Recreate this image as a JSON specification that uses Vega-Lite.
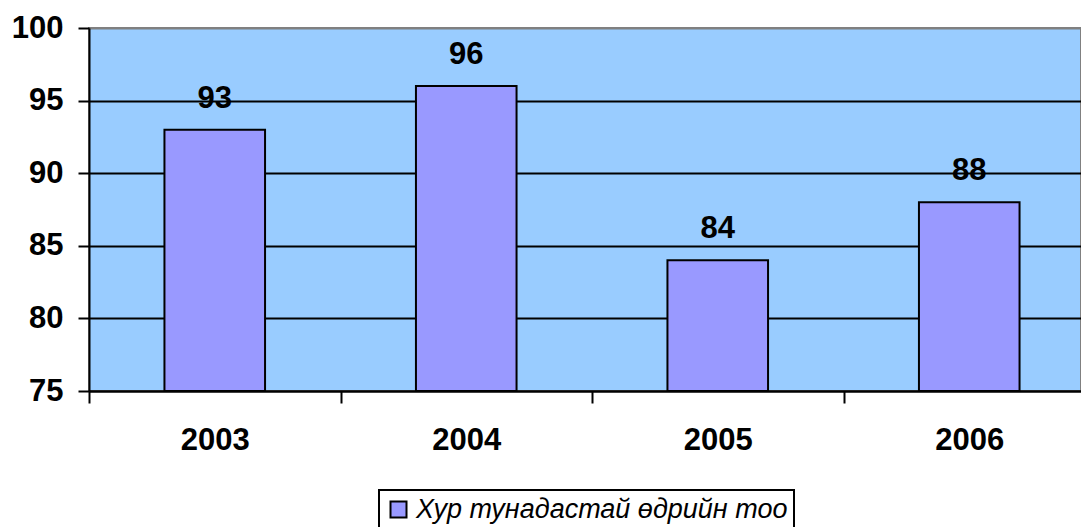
{
  "$schema": "https://vega.github.io/schema/vega-lite/v6.json",
  "width": 992,
  "height": 363,
  "autosize": {"type": "none"},
  "padding": {"left": 89, "top": 28, "right": 0, "bottom": 136},
  "background": "white",
  "config": {
    "font": "Liberation Sans",
    "view": {"fill": "#99CCFF", "stroke": "#808080", "strokeWidth": 2}
  },
  "data": {
    "values": [
      {"year": "2003", "value": 93, "series": "Хур тунадастай өдрийн тоо"},
      {"year": "2004", "value": 96, "series": "Хур тунадастай өдрийн тоо"},
      {"year": "2005", "value": 84, "series": "Хур тунадастай өдрийн тоо"},
      {"year": "2006", "value": 88, "series": "Хур тунадастай өдрийн тоо"}
    ]
  },
  "encoding": {
    "x": {
      "field": "year",
      "type": "nominal",
      "scale": {"range": [0, 1006], "paddingInner": 0, "paddingOuter": 0},
      "axis": {
        "title": null,
        "labelAngle": 0,
        "labelFont": "Liberation Sans",
        "labelFontSize": 31,
        "labelFontWeight": "bold",
        "labelColor": "black",
        "labelPadding": 22,
        "tickBand": "extent",
        "tickSize": 12,
        "tickColor": "black",
        "tickWidth": 2,
        "domainColor": "black",
        "domainWidth": 2,
        "grid": false
      }
    },
    "y": {
      "field": "value",
      "type": "quantitative",
      "scale": {"domain": [75, 100], "zero": false, "nice": false},
      "axis": {
        "title": null,
        "values": [75, 80, 85, 90, 95, 100],
        "labelFont": "Liberation Sans",
        "labelFontSize": 31,
        "labelFontWeight": "bold",
        "labelColor": "black",
        "labelPadding": 15,
        "tickSize": 11,
        "tickColor": "black",
        "tickWidth": 2,
        "domainColor": "black",
        "domainWidth": 2,
        "grid": true,
        "gridColor": {"condition": {"test": "datum.value === 100", "value": "#808080"}, "value": "black"},
        "gridWidth": 2,
        "gridOpacity": 1
      }
    }
  },
  "layer": [
    {
      "mark": {"type": "bar", "stroke": "black", "strokeWidth": 2, "width": {"band": 0.4}},
      "encoding": {
        "y2": {"datum": 75},
        "color": {
          "field": "series",
          "type": "nominal",
          "scale": {"range": ["#9999FF"]},
          "legend": {
            "title": null,
            "orient": "none",
            "legendX": 290,
            "legendY": 462,
            "padding": 6,
            "strokeColor": "black",
            "fillColor": "white",
            "symbolType": "square",
            "symbolSize": 256,
            "symbolStrokeColor": "black",
            "symbolStrokeWidth": 2,
            "symbolOpacity": 1,
            "labelFont": "Liberation Sans",
            "labelFontSize": 27,
            "labelFontStyle": "italic",
            "labelColor": "black",
            "labelOffset": 4,
            "labelLimit": 600,
            "encode": {"legend": {"update": {"strokeWidth": {"value": 2}}}}
          }
        }
      }
    },
    {
      "mark": {
        "type": "text",
        "fontSize": 31,
        "fontWeight": "bold",
        "font": "Liberation Sans",
        "color": "black",
        "baseline": "alphabetic",
        "dy": -22
      },
      "encoding": {"text": {"field": "value", "type": "quantitative"}}
    }
  ]
}
